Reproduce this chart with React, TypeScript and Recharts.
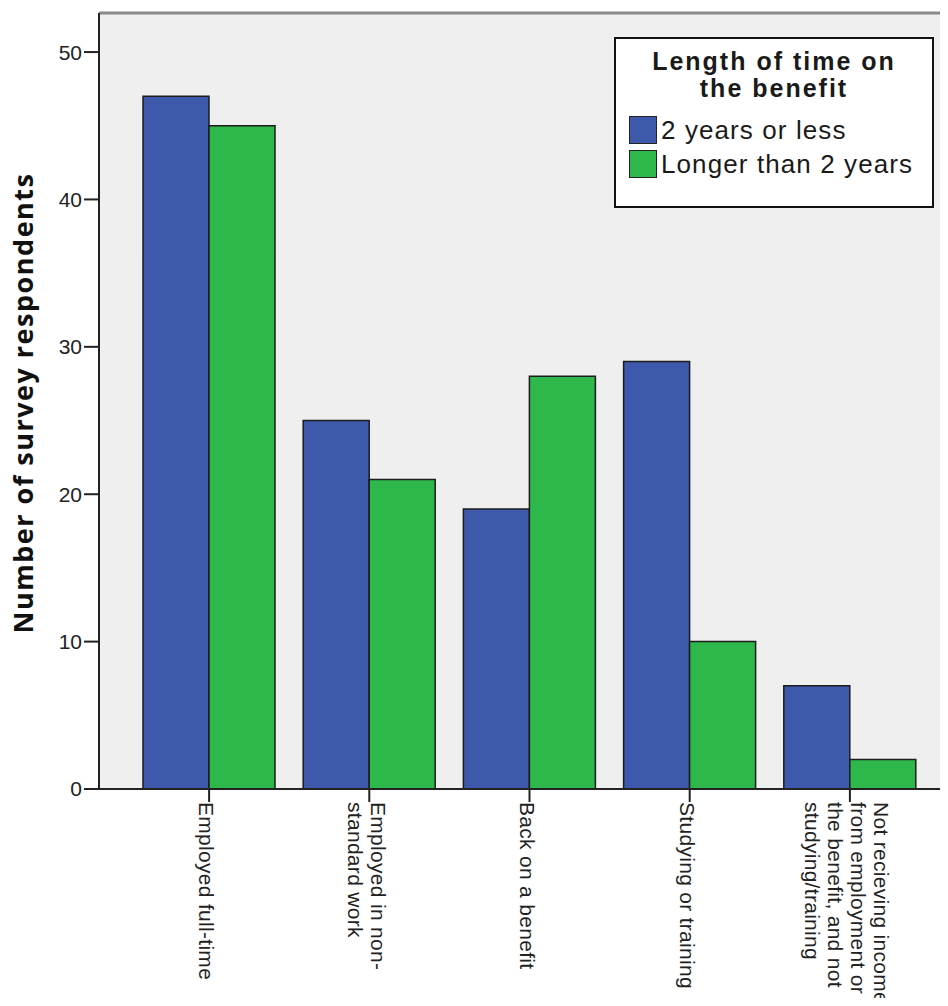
import { BarChart, Bar, XAxis, YAxis, CartesianGrid, Legend, ReferenceLine } from 'recharts';

const CATEGORIES = [
  'Employed full-time',
  'Employed in non-\nstandard work',
  'Back on a benefit',
  'Studying or training',
  'Not recieving income\nfrom employment or\nthe benefit, and not\nstudying/training',
];
const TWO_YEARS_OR_LESS = [47, 25, 19, 29, 7];
const LONGER_THAN_TWO = [45, 21, 28, 10, 2];
const Y_TICKS = [0, 10, 20, 30, 40, 50];
const Y_MAX = 52.65;
const LEGEND_TITLE = ['Length of time on', 'the benefit'];

const SERIES = [
  { key: 'short', name: '2 years or less', color: '#3e58ab' },
  { key: 'long', name: 'Longer than 2 years', color: '#2eb84b' },
];

const data = CATEGORIES.map((c, i) => ({
  name: c,
  short: TWO_YEARS_OR_LESS[i],
  long: LONGER_THAN_TWO[i],
}));

const AXIS_FONT = '"Liberation Sans", Arial, sans-serif';

function CategoryTick({ x, y, payload }: any) {
  const lines = String(payload.value).split('\n');
  const pitch = 23;
  return (
    <g transform={`translate(${x},${y}) rotate(90)`}>
      {lines.map((line, i) => (
        <text
          key={i}
          x={0}
          y={10 + (i - (lines.length - 1) / 2) * pitch}
          textAnchor="start"
          fontFamily={AXIS_FONT}
          fontSize={21}
          letterSpacing={0.3}
          fill="#222"
        >
          {line}
        </text>
      ))}
    </g>
  );
}

function LegendBox() {
  return (
    <div
      style={{
        boxSizing: 'border-box',
        width: 320,
        height: 171,
        background: '#fff',
        border: '2px solid #111',
        fontFamily: AXIS_FONT,
        color: '#1a1a1a',
        paddingTop: 9,
      }}
    >
      {LEGEND_TITLE.map(t => (
        <div
          key={t}
          style={{ fontWeight: 700, fontSize: 25, letterSpacing: 2, lineHeight: '27px', height: 27, textAlign: 'center' }}
        >
          {t}
        </div>
      ))}
      <div style={{ marginTop: 11, paddingLeft: 13 }}>
        {SERIES.map(s => (
          <div key={s.key} style={{ display: 'flex', alignItems: 'center', height: 34 }}>
            <span
              style={{
                display: 'inline-block',
                width: 26,
                height: 26,
                background: s.color,
                border: '1.5px solid #222',
                marginRight: 4,
              }}
            />
            <span style={{ fontSize: 26, letterSpacing: 1.1 }}>{s.name}</span>
          </div>
        ))}
      </div>
    </div>
  );
}

export default function App() {
  return (
    <div style={{ margin: -8, width: 948, height: 1006, background: '#fff' }}>
      <BarChart
        width={948}
        height={1006}
        data={data}
        margin={{ top: 13, right: 0, bottom: 0, left: 0 }}
        barCategoryGap={14}
        barGap={0}
      >
        <CartesianGrid fill="#efefef" horizontal={false} vertical={false} />
        <ReferenceLine y={Y_MAX} stroke="#8a8a8a" strokeWidth={3} />
        <XAxis
          dataKey="name"
          height={217}
          padding={{ left: 30, right: 18 }}
          tickSize={13}
          tickMargin={0}
          stroke="#222"
          strokeWidth={2}
          tick={<CategoryTick />}
          interval={0}
        />
        <YAxis
          width={99}
          domain={[0, Y_MAX]}
          ticks={Y_TICKS}
          tickSize={15}
          tickMargin={2}
          stroke="#222"
          strokeWidth={2}
          tick={{ fontSize: 21, fontFamily: AXIS_FONT, fill: '#222' }}
          allowDataOverflow
          label={({ viewBox }: any) => (
            <text
              transform={`translate(33, ${viewBox.y + viewBox.height / 2 + 2}) rotate(-90)`}
              textAnchor="middle"
              fontFamily='"Open Sans", sans-serif'
              fontWeight={700}
              fontSize={27}
              letterSpacing={1.5}
              fill="#111"
            >
              Number of survey respondents
            </text>
          )}
        />
        <Legend
          layout="vertical"
          align="center"
          verticalAlign="middle"
          wrapperStyle={{ position: 'absolute', left: 614, top: 37, width: 320, height: 171 }}
          content={() => <LegendBox />}
        />
        {SERIES.map(s => (
          <Bar
            key={s.key}
            dataKey={s.key}
            name={s.name}
            fill={s.color}
            stroke="#1c1c1c"
            strokeWidth={1.5}
            isAnimationActive={false}
          />
        ))}
      </BarChart>
    </div>
  );
}
